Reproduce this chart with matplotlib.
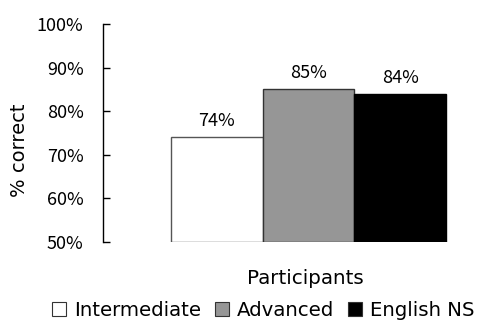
import matplotlib
matplotlib.use("Agg")
import matplotlib.pyplot as plt
from matplotlib.patches import Patch

plt.rcParams['font.family'] = ['Noto Sans CJK JP', 'DejaVu Sans']
TEXT_FONT = ['DejaVu Sans']

groups = ["Intermediate", "Advanced", "English NS"]
values = [74, 85, 84]
colors = ["#ffffff", "#969696", "#000000"]
yticks = [50, 60, 70, 80, 90, 100]
ytick_labels = ["50%", "60%", "70%", "80%", "90%", "100%"]

W, H = 481, 322
fig = plt.figure(figsize=(W / 100, H / 100), dpi=100)
ax = fig.add_axes([103 / W, (H - 242) / H, (470 - 103) / W, (242 - 24) / H])

x = list(range(len(groups)))
ax.bar(x, [v - 50 for v in values], bottom=50, width=1.0,
       color=colors, edgecolor=["#555555", "#333333", "#000000"], linewidth=1.0)

for xi, v in zip(x, values):
    ax.text(xi, v + 1.6, f"{v}%", ha="center", va="bottom", fontsize=13)

ax.set_xlim(-1.242, 2.76)
ax.set_ylim(50, 100)
ax.set_yticks(yticks)
ax.set_yticklabels(ytick_labels, fontsize=13)
ax.tick_params(axis="y", direction="in", length=5, width=1, pad=14)
ax.set_xticks([])
for side in ["top", "right", "bottom"]:
    ax.spines[side].set_visible(False)
ax.spines["left"].set_linewidth(1)

fig.text(20 / W, 1 - 150 / H, "% correct", rotation=90, ha="center", va="center",
         fontsize=14, family=TEXT_FONT)
fig.text(305 / W, 1 - 279 / H, "Participants", ha="center", va="center",
         fontsize=14.3, family=TEXT_FONT)

handles = [Patch(facecolor=c, edgecolor="#333333", linewidth=0.8) for c in colors]
fig.legend(handles, groups, loc="center", bbox_to_anchor=(263 / W, 1 - 310 / H),
           ncol=3, frameon=False, prop={"family": TEXT_FONT, "size": 14.2},
           handlelength=0.71, handleheight=0.71,
           handletextpad=0.4, columnspacing=0.7, borderaxespad=0, borderpad=0)

fig.savefig("out.png", dpi=100)
